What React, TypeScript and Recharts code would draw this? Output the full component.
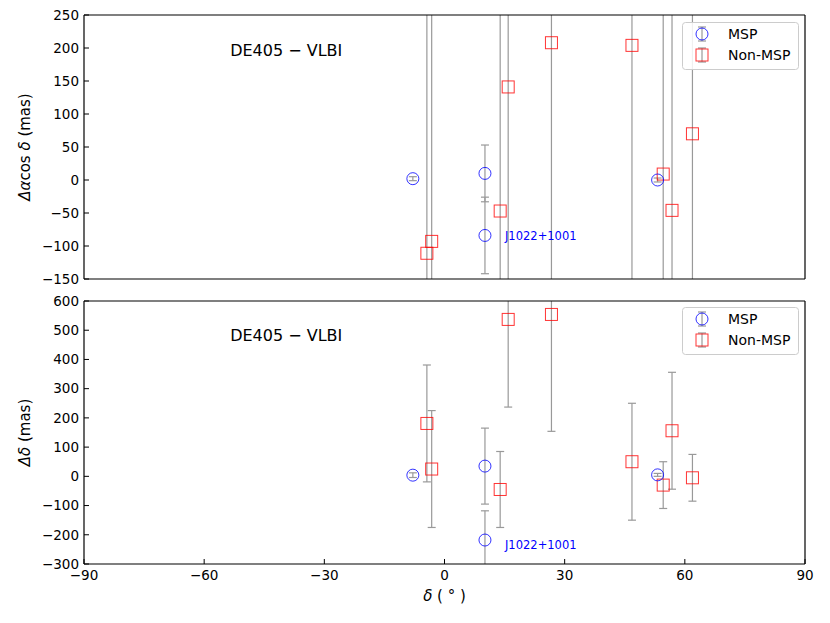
import React from 'react';
import { ScatterChart, Scatter, XAxis, YAxis, ErrorBar, ReferenceDot, Legend } from 'recharts';

// ---- data (declination in degrees, offsets in mas) ----
const mspDec = [-7.9, 10.1, 10.1, 53.2];
const mspDRA = [2, 10, -84, 0];
const mspDRAErr = [3, 43, 58, 3];
const mspDDec = [4, 35, -218, 5];
const mspDDecErr = [8, 130, 100, 5];

const nonDec = [-4.4, -3.2, 13.9, 15.9, 26.7, 46.8, 54.6, 56.8, 61.9];
const nonDRA = [-111, -93, -47, 141, 208, 204, 9, -46, 70];
const nonDRAErr = [1200, 900, 1500, 1100, 1800, 1300, 1000, 1400, 1600];
const nonDDec = [181, 25, -45, 537, 554, 50, -30, 156, -5];
const nonDDecErr = [200, 200, 130, 300, 400, 200, 80, 200, 80];

const xTicks = [-90, -60, -30, 0, 30, 60, 90];
const raTicks = [-150, -100, -50, 0, 50, 100, 150, 200, 250];
const decTicks = [-300, -200, -100, 0, 100, 200, 300, 400, 500, 600];

const annText = 'DE405 \u2212 VLBI';
const jName = 'J1022+1001';
const annPosRA = { x: -53.5, y: 188 };
const annPosDec = { x: -53.5, y: 463 };
const jPosRA = { x: 15.1, y: -91 };
const jPosDec = { x: 15.1, y: -249 };

const FONT = "'DejaVu Sans', sans-serif";
const BLUE = '#0000ff';
const RED = '#ff0000';
const GREY = '#999999';

const fmt = (v: number) => String(v).replace('-', '\u2212');

const build = (xs: number[], ys: number[], es: number[]) =>
  xs.map((x, i) => ({ x, y: ys[i], err: es[i] }));

const mspRA = build(mspDec, mspDRA, mspDRAErr);
const mspDE = build(mspDec, mspDDec, mspDDecErr);
const nonRA = build(nonDec, nonDRA, nonDRAErr);
const nonDE = build(nonDec, nonDDec, nonDDecErr);

const CircleShape = (p: any) => (
  <circle cx={p.cx} cy={p.cy} r={6} fill="none" stroke={BLUE} strokeOpacity={0.8} strokeWidth={1} />
);
const SquareShape = (p: any) => (
  <rect x={p.cx - 6} y={p.cy - 6} width={12} height={12} fill="none" stroke={RED} strokeOpacity={0.8} strokeWidth={1} />
);

const LegendBox = () => (
  <svg width={117} height={48} style={{ display: 'block', fontFamily: FONT }}>
    <rect x={0.5} y={0.5} width={116} height={47} rx={3} ry={3} fill="#fff" fillOpacity={0.85} stroke="#cccccc" />
    {[
      { cy: 12, label: 'MSP', kind: 'c' },
      { cy: 33, label: 'Non-MSP', kind: 's' },
    ].map((r) => (
      <g key={r.label}>
        <line x1={20} x2={20} y1={r.cy - 7} y2={r.cy + 7} stroke={GREY} strokeWidth={1.2} />
        <line x1={16} x2={24} y1={r.cy - 7} y2={r.cy - 7} stroke={GREY} strokeWidth={1.2} />
        <line x1={16} x2={24} y1={r.cy + 7} y2={r.cy + 7} stroke={GREY} strokeWidth={1.2} />
        {r.kind === 'c' ? (
          <circle cx={20} cy={r.cy} r={6} fill="none" stroke={BLUE} strokeOpacity={0.8} />
        ) : (
          <rect x={14} y={r.cy - 6} width={12} height={12} fill="none" stroke={RED} strokeOpacity={0.8} />
        )}
        <text x={46} y={r.cy + 5} fontSize={14} fill="#000">{r.label}</text>
      </g>
    ))}
  </svg>
);

const textLabel = (text: string, size: number, color: string) => (p: any) => {
  const vb = p.viewBox || {};
  return (
    <text x={vb.x} y={vb.y} fontSize={size} fill={color} fontFamily={FONT} textAnchor="start">
      {text}
    </text>
  );
};

const yLabelRA = (p: any) => {
  const vb = p.viewBox || {};
  const cy = vb.y + vb.height / 2;
  return (
    <text transform={`translate(25, ${cy}) rotate(-90)`} textAnchor="middle" dominantBaseline="central" fontSize={15} fill="#000" fontFamily={FONT}>
      <tspan fontStyle="italic">{'\u0394\u03b1'}</tspan>
      <tspan>cos</tspan>
      <tspan fontStyle="italic">{' \u03b4'}</tspan>
      <tspan>{' (mas)'}</tspan>
    </text>
  );
};

const yLabelDec = (p: any) => {
  const vb = p.viewBox || {};
  const cy = vb.y + vb.height / 2;
  return (
    <text transform={`translate(25, ${cy}) rotate(-90)`} textAnchor="middle" dominantBaseline="central" fontSize={15} fill="#000" fontFamily={FONT}>
      <tspan fontStyle="italic">{'\u0394\u03b4'}</tspan>
      <tspan>{' (mas)'}</tspan>
    </text>
  );
};

const xLabel = (p: any) => {
  const vb = p.viewBox || {};
  return (
    <text x={vb.x + vb.width / 2} y={vb.y + 37} textAnchor="middle" fontSize={15} fill="#000" fontFamily={FONT}>
      <tspan fontStyle="italic">{'\u03b4'}</tspan>
      <tspan>{' ( \u00b0 )'}</tspan>
    </text>
  );
};

type PanelProps = {
  height: number;
  margin: { top: number; right: number; bottom: number; left: number };
  xAxisHeight: number;
  showX: boolean;
  msp: any[];
  non: any[];
  yDomain: [number, number];
  yTicks: number[];
  yLabel: (p: any) => any;
  ann: { x: number; y: number };
  jPos: { x: number; y: number };
  legendTop: number;
  clipId: string;
};

const axisLine = { stroke: '#000', strokeWidth: 1.2 };
const tickLine = { stroke: '#000', strokeWidth: 1 };

const Panel = (pp: PanelProps) => (
  <ScatterChart width={830} height={pp.height} margin={pp.margin} style={{ fontFamily: FONT }}>
    <XAxis
      xAxisId="b"
      type="number"
      dataKey="x"
      orientation="bottom"
      domain={[-90, 90]}
      ticks={xTicks}
      interval={0}
      allowDataOverflow
      height={pp.xAxisHeight}
      tick={pp.showX ? { fontSize: 13.5, fill: '#000' } : false}
      tickFormatter={fmt}
      tickSize={-5}
      tickMargin={11}
      axisLine={axisLine}
      tickLine={tickLine}
      label={pp.showX ? xLabel : undefined}
    />
    <XAxis
      xAxisId="t"
      type="number"
      orientation="top"
      domain={[-90, 90]}
      ticks={xTicks}
      interval={0}
      allowDataOverflow
      height={1}
      tick={false}
      tickSize={-5}
      axisLine={axisLine}
      tickLine={tickLine}
    />
    <YAxis
      yAxisId="l"
      type="number"
      dataKey="y"
      domain={pp.yDomain}
      ticks={pp.yTicks}
      interval={0}
      allowDataOverflow
      width={84}
      tick={{ fontSize: 13.5, fill: '#000' }}
      tickFormatter={fmt}
      tickSize={-5}
      tickMargin={10}
      axisLine={axisLine}
      tickLine={tickLine}
      label={pp.yLabel}
    />
    <YAxis
      yAxisId="r"
      type="number"
      orientation="right"
      domain={pp.yDomain}
      ticks={pp.yTicks}
      interval={0}
      allowDataOverflow
      width={1}
      tick={false}
      tickSize={-5}
      axisLine={axisLine}
      tickLine={tickLine}
    />
    <Scatter name="Non-MSP" data={pp.non} xAxisId="b" yAxisId="l" shape={SquareShape} isAnimationActive={false}>
      <ErrorBar dataKey="err" direction="y" width={4} stroke={GREY} strokeWidth={1.2} isAnimationActive={false} clipPath={`url(#${pp.clipId})`} />
    </Scatter>
    <Scatter name="MSP" data={pp.msp} xAxisId="b" yAxisId="l" shape={CircleShape} isAnimationActive={false}>
      <ErrorBar dataKey="err" direction="y" width={4} stroke={GREY} strokeWidth={1.2} isAnimationActive={false} clipPath={`url(#${pp.clipId})`} />
    </Scatter>
    <ReferenceDot
      xAxisId="b"
      yAxisId="l"
      x={pp.ann.x}
      y={pp.ann.y}
      r={0}
      fill="none"
      stroke="none"
      label={textLabel(annText, 16, '#000')}
    />
    <ReferenceDot
      xAxisId="b"
      yAxisId="l"
      x={pp.jPos.x}
      y={pp.jPos.y}
      r={0}
      fill="none"
      stroke="none"
      label={textLabel(jName, 11.5, BLUE)}
    />
    <Legend
      layout="vertical"
      align="center"
      verticalAlign="middle"
      content={() => <LegendBox />}
      wrapperStyle={{ left: 682, top: pp.legendTop, width: 117, height: 48 }}
    />
  </ScatterChart>
);

const css = `
.panel-top .recharts-errorBar, .panel-top .recharts-errorBars { clip-path: url(#clipTop); }
.panel-bottom .recharts-errorBar, .panel-bottom .recharts-errorBars { clip-path: url(#clipBottom); }
`;

export default function App() {
  return (
    <div style={{ position: 'absolute', left: 0, top: 0, width: 830, height: 623, background: '#fff' }}>
      <style>{css}</style>
      <svg width={0} height={0} style={{ position: 'absolute' }}>
        <defs>
          <clipPath id="clipTop">
            <rect x={84} y={15} width={721} height={264} />
          </clipPath>
          <clipPath id="clipBottom">
            <rect x={84} y={11} width={721} height={263} />
          </clipPath>
        </defs>
      </svg>
      <div className="panel-top" style={{ position: 'absolute', left: 0, top: 0 }}>
        <Panel
          height={290}
          margin={{ top: 14, right: 24, bottom: 1, left: 0 }}
          xAxisHeight={10}
          showX={false}
          msp={mspRA}
          non={nonRA}
          yDomain={[-150, 250]}
          yTicks={raTicks}
          yLabel={yLabelRA}
          ann={annPosRA}
          jPos={jPosRA}
          legendTop={22}
          clipId="clipTop"
        />
      </div>
      <div className="panel-bottom" style={{ position: 'absolute', left: 0, top: 290 }}>
        <Panel
          height={333}
          margin={{ top: 10, right: 24, bottom: 14, left: 0 }}
          xAxisHeight={45}
          showX={true}
          msp={mspDE}
          non={nonDE}
          yDomain={[-300, 600]}
          yTicks={decTicks}
          yLabel={yLabelDec}
          ann={annPosDec}
          jPos={jPosDec}
          legendTop={17}
          clipId="clipBottom"
        />
      </div>
    </div>
  );
}
